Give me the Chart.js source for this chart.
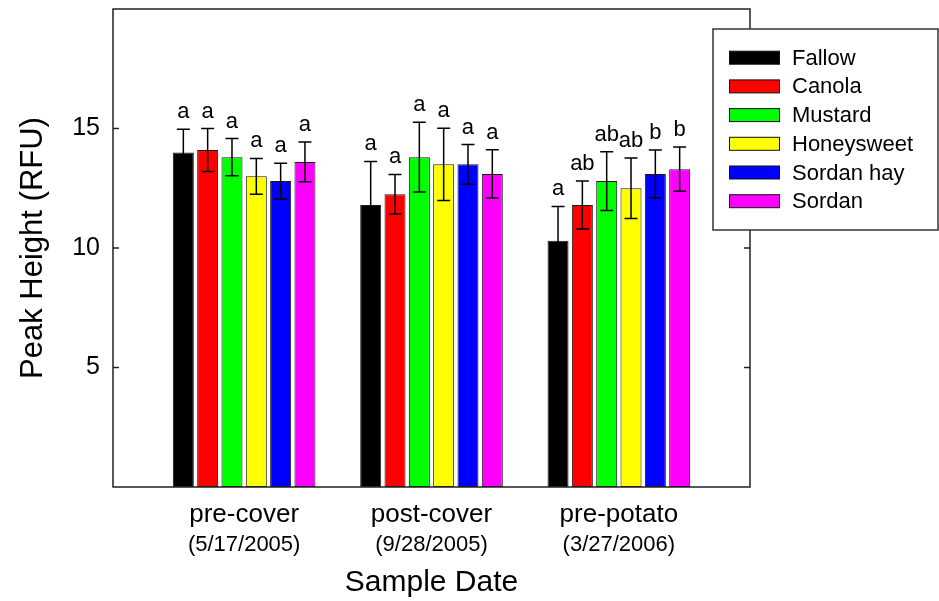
<!DOCTYPE html>
<html><head><meta charset="utf-8">
<script src="https://cdn.jsdelivr.net/npm/chart.js@4/dist/chart.umd.min.js"></script>
<style>html,body{margin:0;padding:0;background:#fff;overflow:hidden}</style>
</head><body>
<canvas id="c" width="939" height="601" style="display:block;width:939px;height:601px"></canvas>
<script>
const categories = ['pre-cover', 'post-cover', 'pre-potato'];
const sampleDates = ['(5/17/2005)', '(9/28/2005)', '(3/27/2006)'];
const seriesNames = ['Fallow', 'Canola', 'Mustard', 'Honeysweet', 'Sordan hay', 'Sordan'];
const fallow = [14.0, 11.8, 10.3];
const canola = [14.1, 12.25, 11.8];
const mustard = [13.8, 13.8, 12.8];
const honeysweet = [13.0, 13.5, 12.5];
const sordanHay = [12.8, 13.5, 13.1];
const sordan = [13.6, 13.1, 13.3];
const fallowErr = [0.97, 1.82, 1.44];
const canolaErr = [0.9, 0.83, 1.0];
const mustardErr = [0.78, 1.46, 1.23];
const honeysweetErr = [0.75, 1.51, 1.27];
const sordanHayErr = [0.75, 0.83, 1.0];
const sordanErr = [0.83, 1.01, 0.93];
const fallowLetters = ['a', 'a', 'a'];
const canolaLetters = ['a', 'a', 'ab'];
const mustardLetters = ['a', 'a', 'ab'];
const honeysweetLetters = ['a', 'a', 'ab'];
const sordanHayLetters = ['a', 'a', 'b'];
const sordanLetters = ['a', 'a', 'b'];
const yTicks = [5, 10, 15];

const FONT = "'Liberation Sans', Arial, Helvetica, sans-serif";
const colors = ['#000000', '#ff0000', '#00ff00', '#ffff00', '#0000ff', '#ff00ff'];
const values = [fallow, canola, mustard, honeysweet, sordanHay, sordan];
const errs = [fallowErr, canolaErr, mustardErr, honeysweetErr, sordanHayErr, sordanErr];
const letters = [fallowLetters, canolaLetters, mustardLetters, honeysweetLetters, sordanHayLetters, sordanLetters];

const datasets = seriesNames.map((name, k) => ({
  label: name,
  data: values[k].map((v, i) => ({x: i + 1, y: v})),
  errors: errs[k],
  letters: letters[k],
  backgroundColor: colors[k],
  borderColor: '#1a1a1a',
  borderWidth: 1,
  borderSkipped: false
}));

const noPad = s => { s.paddingTop = 0; s.paddingBottom = 0; s.paddingLeft = 0; s.paddingRight = 0; };

const extras = {
  id: 'extras',
  afterDatasetsDraw(chart) {
    const ctx = chart.ctx, ys = chart.scales.y, a = chart.chartArea;
    chart.data.datasets.forEach((ds, di) => {
      const meta = chart.getDatasetMeta(di);
      meta.data.forEach((bar, i) => {
        const v = ds.data[i].y, e = ds.errors[i];
        const x = bar.x;
        const yt = ys.getPixelForValue(v + e), yb = ys.getPixelForValue(v - e);
        ctx.save();
        ctx.strokeStyle = '#000'; ctx.lineWidth = 1.5;
        ctx.beginPath();
        ctx.moveTo(x, yt); ctx.lineTo(x, yb);
        ctx.moveTo(x - 6.5, yt); ctx.lineTo(x + 6.5, yt);
        ctx.moveTo(x - 6.5, yb); ctx.lineTo(x + 6.5, yb);
        ctx.stroke();
        ctx.fillStyle = '#000';
        ctx.font = '22px ' + FONT;
        ctx.textAlign = 'center'; ctx.textBaseline = 'alphabetic';
        ctx.fillText(ds.letters[i], x, yt - 11);
        ctx.restore();
      });
    });
    // frame
    ctx.save();
    ctx.strokeStyle = '#222'; ctx.lineWidth = 1.5;
    ctx.strokeRect(a.left, a.top, a.right - a.left, a.bottom - a.top);
    ctx.beginPath();
    yTicks.forEach(t => {
      const py = ys.getPixelForValue(t);
      ctx.moveTo(a.left, py); ctx.lineTo(a.left + 6, py);
      ctx.moveTo(a.right, py); ctx.lineTo(a.right - 6, py);
    });
    ctx.stroke();
    // legend
    const lx = 713, ly = 29, lw = 225, lh = 201;
    ctx.fillStyle = '#fff';
    ctx.fillRect(lx, ly, lw, lh);
    ctx.strokeStyle = '#333'; ctx.lineWidth = 1.5;
    ctx.strokeRect(lx, ly, lw, lh);
    ctx.font = '22px ' + FONT;
    ctx.textAlign = 'left'; ctx.textBaseline = 'middle';
    chart.data.datasets.forEach((ds, k) => {
      const cy = 57.7 + k * 28.7;
      ctx.fillStyle = ds.backgroundColor;
      ctx.fillRect(729, cy - 6.5, 51, 13);
      ctx.strokeStyle = '#111'; ctx.lineWidth = 1;
      ctx.strokeRect(729.5, cy - 6.5, 50, 13);
      ctx.fillStyle = '#000';
      ctx.fillText(ds.label, 792, cy + 1);
    });
    ctx.restore();
  }
};

new Chart(document.getElementById('c'), {
  type: 'bar',
  data: {datasets},
  options: {
    responsive: false,
    animation: false,
    layout: {padding: {top: 9, right: 189, left: 0, bottom: 0}},
    plugins: {legend: {display: false}, tooltip: {enabled: false}},
    datasets: {bar: {categoryPercentage: 0.779, barPercentage: 0.863}},
    scales: {
      x: {
        type: 'linear', position: 'bottom', min: 0.3, max: 3.7, offset: false,
        afterBuildTicks: s => { s.ticks = categories.map((c, i) => ({value: i + 1})); },
        ticks: {callback: v => categories[Math.round(v) - 1] || '', font: {family: FONT, size: 26}, color: '#000', padding: 12, maxRotation: 0, autoSkip: false},
        grid: {display: false, drawTicks: false}, border: {display: false},
        afterFit: s => { s.height = 42; noPad(s); }
      },
      x2: {
        type: 'linear', position: 'bottom', min: 0.3, max: 3.7, offset: false,
        afterBuildTicks: s => { s.ticks = sampleDates.map((c, i) => ({value: i + 1})); },
        ticks: {callback: v => sampleDates[Math.round(v) - 1] || '', font: {family: FONT, size: 22}, color: '#000', padding: 3, maxRotation: 0, autoSkip: false},
        grid: {display: false, drawTicks: false}, border: {display: false},
        title: {display: true, text: 'Sample Date', color: '#000', font: {family: FONT, size: 30}, padding: {top: 0, bottom: 0}},
        afterFit: s => { s.height = 72; noPad(s); }
      },
      y: {
        min: 0, max: 20,
        afterBuildTicks: s => { s.ticks = yTicks.map(v => ({value: v})); },
        ticks: {font: {family: FONT, size: 25}, color: '#000', padding: 13},
        grid: {display: false, drawTicks: false}, border: {display: false},
        title: {display: true, text: 'Peak Height (RFU)', color: '#000', font: {family: FONT, size: 31}, padding: {top: 15, bottom: 0}},
        afterFit: s => { s.width = 113; noPad(s); }
      }
    }
  },
  plugins: [extras]
});
</script>
</body></html>
